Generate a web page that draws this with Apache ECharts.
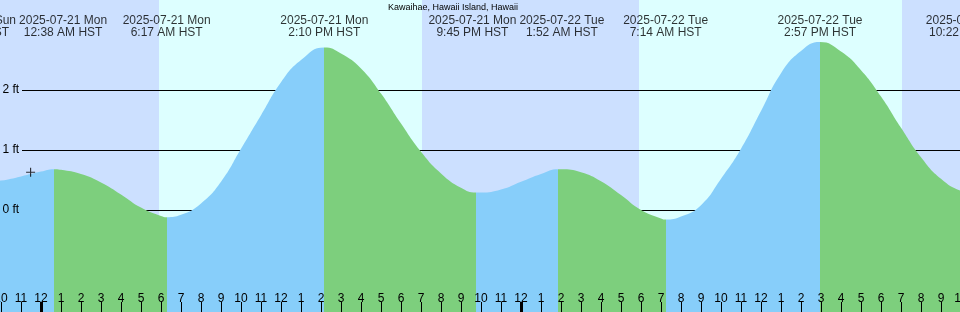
<!DOCTYPE html>
<html><head><meta charset="utf-8">
<script src="https://cdn.jsdelivr.net/npm/echarts@6/dist/echarts.min.js"></script>
<style>html,body{margin:0;padding:0;background:#fff}#c{width:960px;height:312px}</style>
</head><body><div id="c"></div>
<script>
const TITLE = 'Kawaihae, Hawaii Island, Hawaii';
// hours since 2025-07-21 00:00 HST
const HOURS = [-3,-2.93,-2,-1,0,0.633,1,2,3,4,5,6,6.283,7,8,9,10,11,12,13,14.167,15,16,17,18,19,20,21,21.75,22,23,24,25,25.867,26,27,28,29,30,31,31.233,32,33,34,35,36,37,38,38.95,40,41,42,43,44,45,46,46.367,47];
const HEIGHTS_FT = [0.46,0.46,0.49,0.56,0.64,0.68,0.67,0.60,0.46,0.26,0.04,-0.10,-0.12,-0.08,0.11,0.47,1.02,1.58,2.13,2.50,2.71,2.61,2.36,1.94,1.44,0.97,0.61,0.37,0.29,0.29,0.34,0.47,0.60,0.68,0.68,0.63,0.48,0.25,0.0,-0.14,-0.16,-0.11,0.08,0.52,1.02,1.65,2.28,2.65,2.80,2.64,2.33,1.89,1.37,0.88,0.52,0.32,0.30,0.31];
const EVENT_HOURS = [-2.93,0.633,6.283,14.167,21.75,25.867,31.233,38.95,46.367];
const EVENT_KIND = ['low','high','low','high','low','high','low','high','low'];
const EVENT_DATE = ['2025-07-20 Sun','2025-07-21 Mon','2025-07-21 Mon','2025-07-21 Mon','2025-07-21 Mon','2025-07-22 Tue','2025-07-22 Tue','2025-07-22 Tue','2025-07-22 Tue'];
const EVENT_TIME = ['9:04 PM HST','12:38 AM HST','6:17 AM HST','2:10 PM HST','9:45 PM HST','1:52 AM HST','7:14 AM HST','2:57 PM HST','10:22 PM HST'];
const SUNRISE_HOURS = [5.9, 29.9];
const SUNSET_HOURS = [19.05, 43.05];
const MARK_HOUR = [-0.52];
const MARK_FT = [0.63];
const Y_LABEL_FT = [0, 1, 2];
const GRID_FT = [0, 2];
const MIDNIGHT_HOURS = [0, 24];

const X_MIN = -3, X_MAX = 47, Y_MIN = -1.7, Y_MAX = 3.5;
const W = 960, H = 312;
const FONT = 'Liberation Sans';
const NIGHT = '#cce0ff', DAY = '#ddffff', RISE = '#87cefa', FALL = '#7dcf7d';

const bands = [];
let cur = X_MIN;
for (let i = 0; i < SUNRISE_HOURS.length; i++) {
  bands.push([cur, SUNRISE_HOURS[i], 1]);
  bands.push([SUNRISE_HOURS[i], SUNSET_HOURS[i], 0]);
  cur = SUNSET_HOURS[i];
}
bands.push([cur, X_MAX, 1]);

const pieces = [{lt: EVENT_HOURS[0], color: EVENT_KIND[0] === 'low' ? FALL : RISE}];
for (let i = 0; i < EVENT_HOURS.length - 1; i++) {
  pieces.push({gte: EVENT_HOURS[i], lt: EVENT_HOURS[i + 1], color: EVENT_KIND[i] === 'low' ? RISE : FALL});
}
const lastI = EVENT_HOURS.length - 1;
pieces.push({gte: EVENT_HOURS[lastI], color: EVENT_KIND[lastI] === 'low' ? RISE : FALL});

const hourLabel = v => { const h = ((v % 12) + 12) % 12; return String(h === 0 ? 12 : h); };

const chart = echarts.init(document.getElementById('c'), null, {renderer: 'canvas'});
const gridTop = (Y_MAX - GRID_FT[1]) / (Y_MAX - Y_MIN) * H;
const gridBottom = (GRID_FT[0] - Y_MIN) / (Y_MAX - Y_MIN) * H;

const option = {
  animation: false,
  textStyle: {fontFamily: FONT},
  title: {text: TITLE, left: 388, top: 2.5, padding: 0,
    textStyle: {fontSize: 9, fontWeight: 'normal', color: '#000', fontFamily: FONT, lineHeight: 10}},
  grid: [
    {left: -19, right: -21, top: 0, bottom: 0, outerBoundsMode: 'none', containLabel: false},
    {left: 22, right: 0, top: gridTop, bottom: gridBottom, outerBoundsMode: 'none', containLabel: false}
  ],
  xAxis: [
    {type: 'value', gridIndex: 0, min: X_MIN, max: X_MAX, interval: 1, position: 'bottom', z: 10,
      axisLine: {show: false, onZero: false}, splitLine: {show: false},
      axisTick: {inside: true, length: 10, lineStyle: {color: '#000', width: 1}},
      axisLabel: {inside: true, margin: 7, color: '#000', fontSize: 12, fontFamily: FONT,
        formatter: hourLabel, showMinLabel: true, showMaxLabel: true, hideOverlap: false}},
    {type: 'value', gridIndex: 1, min: 0, max: 1, show: false, axisLine: {onZero: false}},
    {type: 'value', gridIndex: 0, min: X_MIN, max: X_MAX, position: 'bottom', z: 10,
      axisLine: {show: false, onZero: false}, splitLine: {show: false}, axisLabel: {show: false},
      axisTick: {inside: true, length: 10, customValues: MIDNIGHT_HOURS, lineStyle: {color: '#000', width: 3}}}
  ],
  yAxis: [
    {type: 'value', gridIndex: 0, min: Y_MIN, max: Y_MAX, z: 10,
      axisLine: {show: false, onZero: false}, axisTick: {show: false}, splitLine: {show: false},
      axisLabel: {inside: true, margin: 21.5, customValues: Y_LABEL_FT, formatter: v => v + ' ft',
        color: '#000', fontSize: 12, fontFamily: FONT, verticalAlign: 'middle', padding: [2, 0, 0, 0]}},
    {type: 'value', gridIndex: 1, min: GRID_FT[0], max: GRID_FT[1], interval: 1, z: 1,
      axisLine: {show: false, onZero: false}, axisTick: {show: false}, axisLabel: {show: false},
      splitLine: {show: true, lineStyle: {color: '#000', width: 1}}}
  ],
  visualMap: {type: 'piecewise', show: false, seriesIndex: 1, dimension: 0, pieces: pieces},
  series: [
    {type: 'custom', xAxisIndex: 0, yAxisIndex: 0, z: 0, silent: true,
      data: bands, encode: {x: [0, 1]},
      renderItem: (params, api) => {
        const x0 = Math.round(api.coord([api.value(0), 0])[0]);
        const x1 = Math.round(api.coord([api.value(1), 0])[0]);
        const cs = params.coordSys;
        return {type: 'rect', shape: {x: x0, y: cs.y, width: x1 - x0, height: cs.height},
          style: {fill: api.value(2) ? NIGHT : DAY}};
      }},
    {type: 'line', xAxisIndex: 0, yAxisIndex: 0, z: 2, silent: true,
      data: HOURS.map((h, i) => [h, HEIGHTS_FT[i]]),
      smooth: 0.5, showSymbol: false, lineStyle: {width: 0},
      areaStyle: {opacity: 1, origin: 'start'}},
    {type: 'scatter', xAxisIndex: 0, yAxisIndex: 0, z: 5, silent: true, clip: false,
      data: EVENT_HOURS.map(h => [h, Y_MAX]),
      symbolSize: 1, itemStyle: {color: 'rgba(0,0,0,0)'},
      label: {show: true, position: 'bottom', distance: 14, color: '#000', fontSize: 12,
        fontFamily: FONT, lineHeight: 12, align: 'center',
        formatter: p => EVENT_DATE[p.dataIndex] + '\n' + EVENT_TIME[p.dataIndex]}},
    {type: 'scatter', xAxisIndex: 0, yAxisIndex: 0, z: 6, silent: true,
      data: MARK_HOUR.map((h, i) => [h, MARK_FT[i]]),
      symbol: 'path://M0,3.5h8v1h-8z M3.5,0h1v8h-1z', symbolSize: 9,
      itemStyle: {color: '#000'}}
  ]
};
chart.setOption(option);

// resolve overlaps of the top event labels (push apart symmetrically)
const ctx = document.createElement('canvas').getContext('2d');
ctx.font = '12px "' + FONT + '"';
const centers = EVENT_HOURS.map(h => chart.convertToPixel({xAxisIndex: 0, yAxisIndex: 0}, [h, Y_MAX])[0]);
const widths = EVENT_HOURS.map((h, i) => Math.max(ctx.measureText(EVENT_DATE[i]).width, ctx.measureText(EVENT_TIME[i]).width));
const pos = centers.slice();
const GAP = 3;
for (let iter = 0; iter < 10; iter++) {
  for (let i = 0; i < pos.length - 1; i++) {
    const need = widths[i] / 2 + widths[i + 1] / 2 + GAP;
    const d = pos[i + 1] - pos[i];
    if (d < need) { const p = (need - d) / 2; pos[i] -= p; pos[i + 1] += p; }
  }
}
chart.setOption({series: [{}, {}, {
  data: EVENT_HOURS.map((h, i) => ({value: [h, Y_MAX], label: {offset: [pos[i] - centers[i], 0]}}))
}, {}]});
</script></body></html>
